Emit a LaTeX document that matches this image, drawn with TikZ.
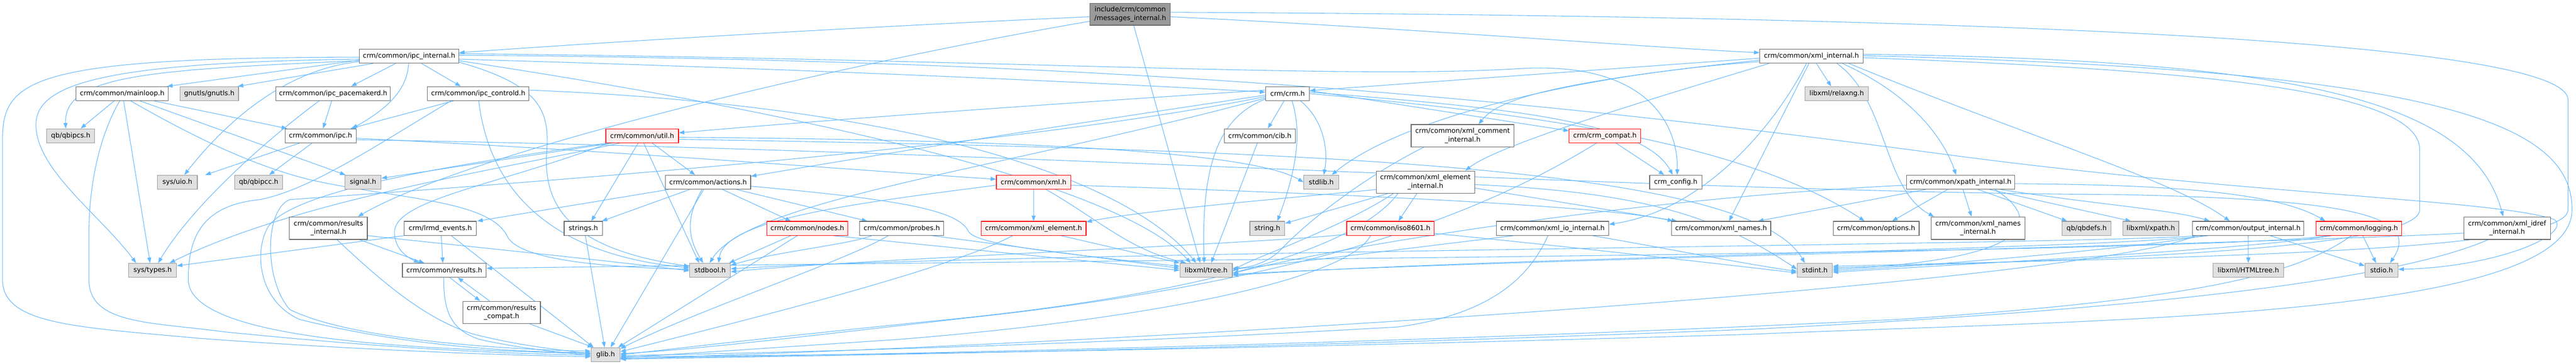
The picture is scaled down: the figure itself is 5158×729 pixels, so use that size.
\documentclass[tikz,border=0pt]{standalone}
\usepackage{fontspec}
\setmainfont{DejaVu Sans}
\usetikzlibrary{arrows.meta}
\definecolor{edgec}{HTML}{63B8FF}
\definecolor{gfill}{HTML}{E0E0E0}
\definecolor{gdraw}{HTML}{999999}
\definecolor{wdraw}{HTML}{666666}
\definecolor{rfill}{HTML}{FFF0F0}
\definecolor{rootfill}{HTML}{999999}
\pgfdeclarelayer{back}
\pgfdeclarelayer{edges}
\pgfsetlayers{back,edges,main}
\newcommand{\hnode}[6]{\node[#1, minimum width=#4pt, minimum height=#5pt, anchor=north west] (#2) at (#3) {#6};}
\begin{document}
\begin{tikzpicture}[x=1pt,y=-1pt,
  box/.style={line width=1.2pt, inner sep=0pt, align=center, font=\fontsize{13.5pt}{17pt}\selectfont},
  gbox/.style={box, fill=gfill, draw=gdraw},
  wbox/.style={box, fill=white, draw=wdraw},
  rbox/.style={box, fill=rfill, draw=red},
  rootbox/.style={box, fill=rootfill, draw=wdraw},
  e/.style={draw=edgec, line width=1.1pt, -{Triangle[length=11pt,width=8pt]}}]
\useasboundingbox (0,0) rectangle (5158,729);
\begin{pgfonlayer}{back}
\fill[white] (0,0) rectangle (5158,729);
\end{pgfonlayer}
% nodes
\hnode{rootbox}{M}{2182,6}{161}{44}{include/crm/common\\/messages\_internal.h}
\hnode{wbox}{II}{719,98}{199}{28}{crm/common/ipc\_internal.h}
\hnode{wbox}{XI}{3523,98}{207}{28}{crm/common/xml\_internal.h}
\hnode{wbox}{ML}{151.5,173}{185}{28}{crm/common/mainloop.h}
\hnode{gbox}{GN}{360,173}{117}{28}{gnutls/gnutls.h}
\hnode{wbox}{PM}{552,173}{229}{28}{crm/common/ipc\_pacemakerd.h}
\hnode{wbox}{CD}{855.5,173}{203}{28}{crm/common/ipc\_controld.h}
\hnode{wbox}{CRM}{2533.5,173}{88}{28}{crm/crm.h}
\hnode{gbox}{RX}{3613.5,173}{127}{28}{libxml/relaxng.h}
\hnode{gbox}{QBS}{93,257.5}{96}{28}{qb/qbipcs.h}
\hnode{wbox}{IPC}{570,257.5}{142.5}{28}{crm/common/ipc.h}
\hnode{rbox}{UT}{1212.5,257.5}{145.5}{28}{crm/common/util.h}
\hnode{wbox}{CIB}{2451,257.5}{142}{28}{crm/common/cib.h}
\hnode{wbox}{XCI}{2825,249}{206}{45}{crm/common/xml\_comment\\\_internal.h}
\hnode{rbox}{CC}{3141.5,257.5}{143}{28}{crm/crm\_compat.h}
\hnode{gbox}{UIO}{314.5,350.5}{80}{28}{sys/uio.h}
\hnode{gbox}{QBC}{469.5,350.5}{95.5}{28}{qb/qbipcc.h}
\hnode{gbox}{SIG}{690,350.5}{72.5}{28}{signal.h}
\hnode{wbox}{ACT}{1332,350.5}{170.5}{28}{crm/common/actions.h}
\hnode{rbox}{XML}{1994.5,350.5}{149}{28}{crm/common/xml.h}
\hnode{gbox}{STL}{2610,350.5}{70}{28}{stdlib.h}
\hnode{wbox}{XEI}{2755,342}{197}{44.5}{crm/common/xml\_element\\\_internal.h}
\hnode{wbox}{CFG}{3302.5,350.5}{104.5}{28}{crm\_config.h}
\hnode{wbox}{XP}{3816.5,350.5}{217}{28}{crm/common/xpath\_internal.h}
\hnode{wbox}{RI}{579,434}{156}{45}{crm/common/results\\\_internal.h}
\hnode{wbox}{LE}{809,443}{144}{28}{crm/lrmd\_events.h}
\hnode{wbox}{STRS}{1129,443}{77}{28}{strings.h}
\hnode{rbox}{ND}{1535,443}{162}{28}{crm/common/nodes.h}
\hnode{wbox}{PR}{1721,443}{168}{28}{crm/common/probes.h}
\hnode{rbox}{XE}{1964,443}{210}{28}{crm/common/xml\_element.h}
\hnode{gbox}{STR}{2502,443}{70}{28}{string.h}
\hnode{rbox}{ISO}{2696,443}{175}{28}{crm/common/iso8601.h}
\hnode{wbox}{XIO}{2995.5,443}{225}{28}{crm/common/xml\_io\_internal.h}
\hnode{wbox}{XN}{3346,443}{199}{28}{crm/common/xml\_names.h}
\hnode{wbox}{OPT}{3670,443}{172}{28}{crm/common/options.h}
\hnode{wbox}{XNI}{3866,434}{188}{45}{crm/common/xml\_names\\\_internal.h}
\hnode{gbox}{QBD}{4128.5,443}{98}{28}{qb/qbdefs.h}
\hnode{gbox}{XPA}{4250,443}{112}{28}{libxml/xpath.h}
\hnode{wbox}{OI}{4389.5,443}{223}{28}{crm/common/output\_internal.h}
\hnode{rbox}{LOG}{4637,443}{171}{28}{crm/common/logging.h}
\hnode{wbox}{XID}{4933,434}{173}{45}{crm/common/xml\_idref\\\_internal.h}
\hnode{gbox}{ST}{257,527}{96}{28}{sys/types.h}
\hnode{wbox}{RS}{805,527}{168}{28}{crm/common/results.h}
\hnode{gbox}{SB}{1380.5,527}{81.5}{28}{stdbool.h}
\hnode{gbox}{TR}{2362,527}{105}{28}{libxml/tree.h}
\hnode{gbox}{SI}{3598,527}{70.5}{28}{stdint.h}
\hnode{gbox}{HT}{4430.5,527}{141.5}{28}{libxml/HTMLtree.h}
\hnode{gbox}{SIO}{4735,527}{66}{28}{stdio.h}
\hnode{wbox}{RC}{926,603}{155.5}{45}{crm/common/results\\\_compat.h}
\hnode{gbox}{GL}{1183,696}{58}{28}{glib.h}
\begin{pgfonlayer}{edges}
% messages_internal
\draw[e] ([yshift=-5pt]M.west) .. controls (1700,55) and (1200,85) .. ([yshift=7pt]II.east);
\draw[e] ([yshift=-14pt]M.west) .. controls (1700,125) and (950,300) .. ([xshift=59pt]RI.north);
\draw[e] ([yshift=-5pt]M.east) .. controls (2800,55) and (3300,95) .. ([yshift=7pt]XI.west);
\draw[e] ([xshift=7pt]M.south) -- ([xshift=-12pt]TR.north);
\draw[e] ([yshift=4pt]M.east) .. controls (3500,30) and (5142,60) .. (5142,200) -- (5142,420) .. controls (5142,505) and (4400,515) .. ([yshift=8pt]SI.east);
% ipc_internal
\draw[e] ([yshift=-2pt]II.west) .. controls (60,115) and (5,160) .. (5,280) -- (5,560) .. controls (5,650) and (150,655) .. (400,678) .. controls (700,700) and (1000,712) .. ([yshift=-4pt]GL.west);
\draw[e] ([yshift=-6pt]II.west) .. controls (200,125) and (72,170) .. (72,250) .. controls (72,340) and (200,430) .. ([xshift=-33pt]ST.north);
\draw[e] ([yshift=-9pt]II.west) .. controls (300,140) and (128,150) .. ([xshift=-10pt]QBS.north);
\draw[e] ([yshift=-8pt]II.west) -- ([xshift=90pt]ML.north);
\draw[e] ([xshift=-72pt]II.south) -- ([xshift=57pt]GN.north);
\draw[e] ([yshift=-11pt]II.west) .. controls (560,140) and (440,260) .. ([xshift=14pt]UIO.north);
\draw[e] ([xshift=-27pt]II.south) -- ([xshift=36pt]PM.north);
\draw[e] ([xshift=-1pt]II.south) .. controls (816,170) and (790,210) .. ([xshift=63pt]IPC.north);
\draw[e] ([xshift=25pt]II.south) -- ([xshift=-35pt]CD.north);
\draw[e] ([yshift=-12pt]II.east) .. controls (1080,170) and (1100,220) .. (1095,300) .. controls (1085,420) and (1150,500) .. ([yshift=8pt]SB.west);
\draw[e] ([yshift=-6pt]II.east) .. controls (1500,135) and (2100,160) .. ([yshift=3pt]CRM.west);
\draw[e] ([yshift=5pt]II.east) .. controls (2000,118) and (2700,160) .. (3050,137) .. controls (3300,125) and (3360,250) .. ([xshift=3pt]CFG.north);
\draw[e] ([yshift=2pt]II.east) .. controls (2200,120) and (3000,190) .. (3900,310) .. controls (4500,390) and (5000,400) .. (5115,440) .. controls (5150,470) and (5000,535) .. ([yshift=2pt]SIO.east);
\draw[e] ([yshift=-9pt]II.east) .. controls (1700,240) and (2250,380) .. ([xshift=-31pt]TR.north);
% xml_internal
\draw[e] ([yshift=-4pt]XI.west) -- ([yshift=6pt]CRM.east);
\draw[e] ([yshift=-8pt]XI.west) .. controls (3100,165) and (3000,200) .. ([xshift=32pt]XCI.north);
\draw[e] ([yshift=-11pt]XI.west) .. controls (3150,150) and (2800,240) .. ([xshift=21pt]STL.north);
\draw[e] ([xshift=-85pt]XI.south) .. controls (3300,200) and (3000,290) .. ([xshift=80pt]XEI.north);
\draw[e] ([xshift=-10pt]XI.south) .. controls (3560,240) and (3420,420) .. ([yshift=8pt]XIO.east);
\draw[e] ([xshift=-5pt]XI.south) -- ([xshift=16pt]XN.north);
\draw[e] ([xshift=10pt]XI.south) -- ([xshift=-11pt]RX.north);
\draw[e] ([xshift=51pt]XI.south) .. controls (3780,200) and (3770,380) .. ([xshift=-88pt]XNI.north);
\draw[e] ([xshift=62pt]XI.south) .. controls (3850,200) and (3900,300) .. ([xshift=-9pt]XP.north);
\draw[e] ([xshift=75pt]XI.south) .. controls (4050,270) and (4350,360) .. ([xshift=-37pt]OI.north);
\draw[e] ([yshift=4pt]XI.east) .. controls (4600,120) and (4950,200) .. ([xshift=-8pt]XID.north);
\draw[e] ([yshift=1pt]XI.east) .. controls (4900,140) and (5150,250) .. (5150,420) .. controls (5150,640) and (4200,640) .. (3500,670) .. controls (2500,700) and (1700,712) .. ([yshift=-4pt]GL.east);
\draw[e] ([yshift=-3pt]XI.east) .. controls (4400,140) and (4845,180) .. (4845,300) -- (4845,420) .. controls (4845,500) and (4200,520) .. ([yshift=5pt]SI.east);
% mainloop
\draw[e] ([xshift=-16pt]ML.south) -- ([xshift=20pt]QBS.north);
\draw[e] ([xshift=-5pt]ML.south) .. controls (195,280) and (178,380) .. (178,470) -- (178,560) .. controls (178,650) and (300,645) .. (450,665) .. controls (800,700) and (1000,708) .. ([yshift=-1pt]GL.west);
\draw[e] ([xshift=3pt]ML.south) -- ([xshift=-5pt]ST.north);
\draw[e] ([xshift=17pt]ML.south) .. controls (380,270) and (500,330) .. (620,360) .. controls (800,400) and (980,400) .. (1016,474) .. controls (1040,520) and (1200,535) .. ([yshift=2pt]SB.west);
\draw[e] ([xshift=36pt]ML.south) -- ([xshift=-35pt]SIG.north);
\draw[e] ([xshift=64pt]ML.south) -- ([xshift=-67pt]IPC.north);
% ipc_pacemakerd
\draw[e] ([xshift=-28pt]PM.south) .. controls (520,290) and (380,420) .. ([xshift=11pt]ST.north);
\draw[e] ([xshift=-3pt]PM.south) -- ([xshift=5pt]IPC.north);
% ipc_controld
\draw[e] ([xshift=-50pt]CD.south) -- ([xshift=60pt]IPC.north);
\draw[e] ([xshift=-55pt]CD.south) .. controls (740,300) and (620,380) .. (520,400) .. controls (400,412) and (377,480) .. (377,560) .. controls (377,690) and (900,700) .. ([yshift=2pt]GL.west);
\draw[e] ([xshift=1pt]CD.south) .. controls (980,380) and (1100,510) .. ([yshift=5pt]SB.west);
\draw[e] ([yshift=7pt]CD.east) .. controls (1800,210) and (2250,350) .. ([xshift=-20pt]TR.north);
% ipc
\draw[e] ([xshift=-42pt]IPC.south) -- ([xshift=56pt]UIO.north);
\draw[e] ([xshift=-17pt]IPC.south) -- ([xshift=21pt]QBC.north);
\draw[e] ([yshift=-5pt]IPC.east) .. controls (1200,300) and (1700,340) .. ([yshift=6pt]XML.west);
\draw[e] ([yshift=-8pt]IPC.east) .. controls (2000,300) and (3300,385) .. (4250,390) .. controls (4700,400) and (4850,430) .. ([xshift=17pt]SIO.north);
% util
\draw[e] ([xshift=-60pt]UT.south) -- ([yshift=8pt]SIG.east);
\draw[e] ([xshift=-45pt]UT.south) .. controls (1000,340) and (600,400) .. ([xshift=34pt]ST.north);
\draw[e] ([xshift=-8pt]UT.south) -- ([xshift=16pt]STRS.north);
\draw[e] ([xshift=3pt]UT.south) -- ([xshift=-22pt]SB.north);
\draw[e] ([xshift=20pt]UT.south) -- ([xshift=-26pt]ACT.north);
\draw[e] ([xshift=-67pt]UT.south) .. controls (1000,370) and (790,400) .. (790,465) .. controls (790,500) and (815,515) .. ([xshift=-50pt]RS.north);
\draw[e] ([xshift=-70pt]UT.south) .. controls (900,330) and (600,380) .. (540,450) .. controls (510,490) and (510,600) .. (600,640) .. controls (800,690) and (1000,705) .. ([yshift=4pt]GL.west);
\draw[e] ([yshift=-3pt]UT.east) .. controls (2000,280) and (2500,300) .. (STL.west);
\draw[e] ([yshift=-7pt]UT.east) .. controls (2600,300) and (3500,330) .. ([xshift=-20pt]SI.north);
% actions
\draw[e] ([xshift=-79pt]ACT.south) -- ([xshift=74pt]LE.north);
\draw[e] ([xshift=-37pt]ACT.south) -- ([xshift=37pt]STRS.north);
\draw[e] ([xshift=-9pt]ACT.south) -- ([xshift=10pt]GL.north);
\draw[e] ([xshift=-12pt]ACT.south) .. controls (1370,440) and (1380,480) .. ([xshift=-14pt]SB.north);
\draw[e] ([xshift=29pt]ACT.south) -- ([xshift=-33pt]ND.north);
\draw[e] ([xshift=57pt]ACT.south) -- ([xshift=-69pt]PR.north);
\draw[e] ([yshift=-8pt]ACT.east) .. controls (1800,400) and (1920,420) .. (1940,465) .. controls (1960,490) and (2100,505) .. ([yshift=8pt]TR.west);
% lrmd_events
\draw[e] ([xshift=2pt]LE.south) -- ([xshift=-3pt]RS.north);
\draw[e] ([xshift=22pt]LE.south) -- ([xshift=-24pt]GL.north);
\draw[e] (LE.south west) -- ([yshift=9pt]ST.east);
% results_internal
\draw[e] ([xshift=62pt]RI.south) -- ([xshift=-40pt]RS.north);
\draw[e] ([xshift=17pt]RI.south) .. controls (760,560) and (850,640) .. (950,670) .. controls (1050,695) and (1120,700) .. ([yshift=1pt]GL.west);
\draw[e] ([yshift=-15pt]RI.east) .. controls (900,490) and (1200,520) .. ([yshift=-1pt]SB.west);
% results / compat
\draw[e] ([xshift=11pt]RS.south) -- ([xshift=-43pt]RC.north);
\draw[e] ([xshift=-24pt]RC.north) -- ([xshift=27pt]RS.south);
\draw[e] ([xshift=-1pt]RS.south) .. controls (888,620) and (900,660) .. (960,680) .. controls (1050,700) and (1120,705) .. ([yshift=-2pt]GL.west);
\draw[e] ([xshift=57pt]RC.south) -- ([xshift=-25pt]GL.north);
% nodes
\draw[e] ([xshift=-33pt]ND.south) -- ([xshift=38pt]SB.north);
\draw[e] ([xshift=-20pt]ND.south) -- ([xshift=25pt]GL.north);
\draw[e] ([xshift=52pt]ND.south) -- (TR.west);
% probes
\draw[e] ([xshift=-60pt]PR.south) .. controls (1700,490) and (1550,505) .. ([yshift=10pt]SB.east);
\draw[e] ([xshift=-27pt]PR.south) .. controls (1700,520) and (1400,620) .. ([yshift=12pt]GL.east);
\draw[e] ([xshift=61pt]PR.south) -- ([yshift=4pt]TR.west);
% xml
\draw[e] (XML.south) -- (XE.north);
\draw[e] ([xshift=25pt]XML.south) .. controls (2200,440) and (2260,500) .. ([xshift=-40pt]TR.north);
\draw[e] ([yshift=-6pt]XML.west) .. controls (1700,409) and (1450,440) .. ([xshift=17pt]SB.north);
\draw[e] ([yshift=-6pt]XML.east) .. controls (2600,385) and (3200,410) .. ([xshift=-96pt]XN.north);
% xml_element
\draw[e] ([xshift=55pt]XE.south) -- (TR.north west);
\draw[e] ([xshift=-42pt]XE.south) .. controls (1900,540) and (1500,640) .. ([yshift=6pt]GL.east);
% xml_element_internal
\draw[e] ([xshift=-17pt]XEI.south) -- ([xshift=16pt]ISO.north);
\draw[e] ([yshift=-15pt]XEI.west) .. controls (2600,395) and (2300,420) .. ([yshift=13pt]XE.east);
\draw[e] ([xshift=-75pt]XEI.south) -- ([yshift=10pt]STR.east);
\draw[e] ([xshift=-64pt]XEI.south) .. controls (2680,460) and (2500,520) .. ([yshift=-2pt]TR.east);
\draw[e] ([xshift=-55pt]XEI.south) .. controls (2700,520) and (2300,600) .. (1900,640) .. controls (1500,680) and (1300,705) .. (GL.east);
\draw[e] ([yshift=-12pt]XEI.east) -- ([xshift=-88pt]XN.north);
\draw[e] ([yshift=-5pt]XEI.east) .. controls (3300,385) and (3450,440) .. ([yshift=2pt]SI.west);
% xml_comment_internal
\draw[e] ([xshift=-78pt]XCI.south) .. controls (2740,350) and (2620,440) .. (2560,505) .. controls (2530,530) and (2500,536) .. ([yshift=4pt]TR.east);
% crm.h
\draw[e] ([xshift=-7pt]CRM.south) -- ([xshift=16pt]CIB.north);
\draw[e] ([yshift=-11pt]CRM.west) .. controls (2440,235) and (2405,330) .. ([xshift=-4pt]TR.north);
\draw[e] ([xshift=9pt]CRM.south) .. controls (2605,260) and (2600,330) .. ([xshift=20pt]STR.north);
\draw[e] ([xshift=26pt]CRM.south) .. controls (2650,240) and (2660,300) .. ([xshift=5pt]STL.north);
\draw[e] ([yshift=7pt]CRM.west) .. controls (2000,215) and (1600,245) .. ([yshift=6pt]UT.east);
\draw[e] ([yshift=-3pt]CRM.west) .. controls (2000,270) and (1700,320) .. ([yshift=12pt]ACT.east);
\draw[e] ([yshift=-6pt]CRM.west) .. controls (2000,300) and (1000,370) .. (580,400) .. controls (530,420) and (528,560) .. (580,620) .. controls (700,680) and (1000,700) .. ([yshift=7pt]GL.west);
\draw[e] ([yshift=-9pt]CRM.west) .. controls (2000,340) and (1500,400) .. ([xshift=-1pt]SB.north);
\draw[e] ([yshift=6pt]CRM.east) -- ([yshift=10pt]CC.west);
\draw[e] ([yshift=3pt]CRM.east) .. controls (3000,215) and (3290,240) .. ([xshift=-6pt]CFG.north);
\draw[e] (CRM.east) .. controls (3100,230) and (3500,290) .. ([xshift=-23pt]OPT.north);
% crm_compat
\draw[e] ([xshift=22pt]CC.south) -- ([xshift=-23pt]CFG.north);
\draw[e] ([xshift=-17pt]CC.south) .. controls (2950,440) and (2600,560) .. (2000,630) .. controls (1600,675) and (1400,700) .. ([yshift=2pt]GL.east);
% xml_io_internal
\draw[e] ([xshift=-78pt]XIO.south) .. controls (2800,500) and (2600,525) .. ([yshift=2pt]TR.east);
\draw[e] ([xshift=-9pt]XIO.south) .. controls (3060,560) and (2980,630) .. (2800,655) .. controls (2200,690) and (1600,706) .. ([yshift=-2pt]GL.east);
\draw[e] ([xshift=80pt]XIO.south) .. controls (3350,500) and (3500,530) .. ([yshift=-2pt]SI.west);
% iso8601
\draw[e] ([yshift=-12pt]ISO.west) .. controls (2500,490) and (1700,520) .. ([yshift=-3pt]SB.east);
\draw[e] ([yshift=-10pt]ISO.east) .. controls (3200,500) and (3450,530) .. ([yshift=-5pt]SI.west);
\draw[e] ([xshift=-40pt]ISO.south) .. controls (2700,560) and (2300,640) .. (1800,680) .. controls (1500,700) and (1350,710) .. ([yshift=-6pt]GL.east);
% xpath_internal
\draw[e] ([yshift=-6pt]XP.west) .. controls (3300,395) and (2700,490) .. ([yshift=-6pt]TR.east);
\draw[e] ([xshift=-70pt]XP.south) -- ([xshift=74pt]XN.north);
\draw[e] ([xshift=-26pt]XP.south) -- ([xshift=32pt]OPT.north);
\draw[e] ([xshift=5pt]XP.south) -- ([xshift=-13pt]XNI.north);
\draw[e] ([xshift=35pt]XP.south) -- ([xshift=-39pt]QBD.north);
\draw[e] ([xshift=58pt]XP.south) -- ([xshift=-40pt]XPA.north);
\draw[e] ([xshift=69pt]XP.south) .. controls (4090,440) and (4080,520) .. ([yshift=2pt]SI.east);
\draw[e] ([xshift=80pt]XP.south) .. controls (4200,410) and (4350,420) .. ([xshift=-77pt]OI.north);
\draw[e] ([yshift=-3pt]XP.east) .. controls (4300,370) and (4550,380) .. ([xshift=-67pt]LOG.north);
% output_internal
\draw[e] (OI.south) -- (HT.north);
\draw[e] ([xshift=44pt]OI.south) -- ([yshift=9pt]SIO.west);
\draw[e] ([xshift=-90pt]OI.south) .. controls (4300,495) and (3900,530) .. ([yshift=-1pt]SI.east);
\draw[e] ([xshift=-80pt]OI.south) .. controls (4200,500) and (3000,515) .. ([yshift=-10pt]TR.east);
\draw[e] ([xshift=-100pt]OI.south) .. controls (4200,490) and (2000,505) .. ([yshift=3pt]SB.east);
\draw[e] ([xshift=-105pt]OI.south) .. controls (4200,560) and (2500,680) .. ([yshift=-8pt]GL.east);
% logging
\draw[e] ([xshift=8pt]LOG.south) -- ([xshift=-11pt]SIO.north);
\draw[e] ([xshift=-15pt]LOG.south) .. controls (4600,550) and (4400,600) .. (3800,640) .. controls (2800,690) and (1700,712) .. ([yshift=-7pt]GL.east);
\draw[e] ([xshift=-55pt]LOG.south) .. controls (4500,500) and (4000,525) .. ([yshift=-4pt]SI.east);
\draw[e] ([xshift=-60pt]LOG.south) .. controls (4400,510) and (2000,522) .. ([yshift=4pt]RS.east);
% xml_idref_internal
\draw[e] ([yshift=-10pt]XID.west) .. controls (4500,490) and (3000,520) .. ([yshift=-8pt]TR.east);
\draw[e] ([xshift=-38pt]XID.south) .. controls (4800,560) and (4300,620) .. (3500,660) .. controls (2500,700) and (1700,712) .. ([yshift=-9pt]GL.east);
% cib, strings
\draw[e] ([xshift=-5pt]CIB.south) -- ([xshift=10pt]TR.north);
\draw[e] ([xshift=4pt]STRS.south) -- ([xshift=-2pt]GL.north);
\end{pgfonlayer}
\end{tikzpicture}
\end{document}
